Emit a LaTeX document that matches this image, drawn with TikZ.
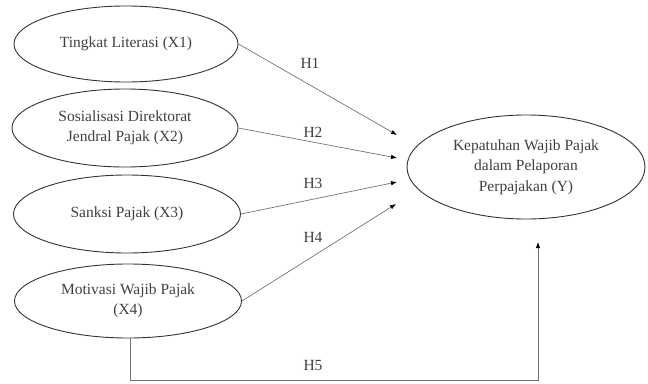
\documentclass[tikz,border=0pt]{standalone}
\usepackage{fontspec}
\setmainfont{Liberation Serif}
\usetikzlibrary{shapes.geometric,arrows.meta}
\begin{document}
\begin{tikzpicture}[x=1pt,y=-1pt,
  var/.style={ellipse,draw=black!80,line width=0.9pt,inner sep=0pt,align=center,
    font=\fontsize{15.5}{20.5}\selectfont,text=black!75},
  link/.style={draw=black!55,line width=0.7pt,-{Latex[length=6pt,width=4.5pt,black]}},
  hlab/.style={font=\fontsize{15.5}{20.5}\selectfont,text=black!75}]
\useasboundingbox (0,0) rectangle (648,383);
\node[var,minimum width=224pt,minimum height=76pt] (x1) at (126,44) {Tingkat Literasi (X1)};
\node[var,minimum width=226pt,minimum height=78pt] (x2) at (125,128) {Sosialisasi Direktorat\\Jendral Pajak (X2)};
\node[var,minimum width=227pt,minimum height=78pt] (x3) at (127,214) {Sanksi Pajak (X3)};
\node[var,minimum width=227pt,minimum height=74pt] (x4) at (128,301) {Motivasi Wajib Pajak\\(X4)};
\node[var,minimum width=238pt,minimum height=104pt] (y) at (526,167) {Kepatuhan Wajib Pajak\\dalam Pelaporan\\Perpajakan (Y)};
\coordinate (t1) at (397,135);
\coordinate (t2) at (397,158);
\coordinate (t3) at (397,182);
\coordinate (t4) at (396,204);
\coordinate (t5) at (538,242);
\coordinate (c1) at (130,380);
\coordinate (c2) at (538,380);
\draw[link] (x1.east) -- (t1);
\draw[link] (x2.east) -- (t2);
\draw[link] (x3.east) -- (t3);
\draw[link] (x4.east) -- (t4);
\draw[link] (x4.south -| c1) -- (c1) -- (c2) -- (t5);
\node[hlab] (h1) at (310,63) {H1};
\node[hlab] (h2) at (313,132) {H2};
\node[hlab] (h3) at (313,183) {H3};
\node[hlab] (h4) at (313,237) {H4};
\node[hlab] (h5) at (313,365) {H5};
\end{tikzpicture}
\end{document}
